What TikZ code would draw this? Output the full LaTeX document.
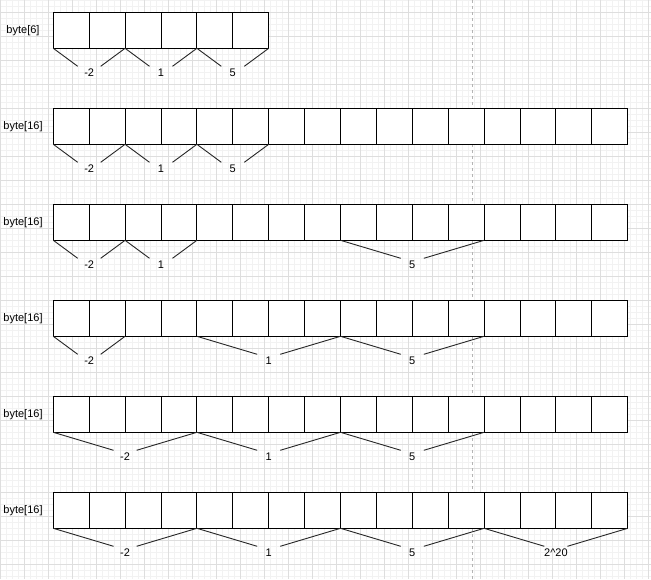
\documentclass[tikz,border=0pt]{standalone}
\usepackage{fontspec}
\setmainfont{Liberation Sans}
\usetikzlibrary{calc}
\definecolor{minorgrid}{HTML}{F2F2F2}
\definecolor{majorgrid}{HTML}{DEDEDE}
\definecolor{guide}{HTML}{B4B4B4}
\newcommand\mygrp[5]{%
  \path ($(r#1c#2.south west)!0.5!(r#1c#3.south east)$) coordinate (#4m);
  \node[lbl] (#4) at ($(#4m)+(0,24)$) {#5};
  \draw[brace] (r#1c#2.south west) -- ($(#4.center)+(-11.5,-6)$);
  \draw[brace] (r#1c#3.south east) -- ($(#4.center)+(11.5,-6)$);
}
\begin{document}
\begin{tikzpicture}[x=1pt,y=-1pt,
  cell/.style={draw=black, fill=white, line width=1pt, minimum width=35.9pt,
    minimum height=36pt, inner sep=0pt, outer sep=0pt, anchor=north west},
  lbl/.style={font=\fontsize{11}{13}\selectfont, inner sep=0pt},
  rowlbl/.style={font=\fontsize{11}{13}\selectfont, inner sep=0pt},
  brace/.style={draw=black!85, line width=0.9pt},
  mingrid/.style={draw=minorgrid, line width=0.8pt},
  majgrid/.style={draw=majorgrid, line width=0.8pt},
  guideline/.style={draw=guide, line width=0.8pt, dash pattern=on 3pt off 3pt}]
\useasboundingbox (0,0) rectangle (651,579);
\fill[white] (0,0) rectangle (651,579);
% grid
\foreach \gx in {0,6,...,648} \draw[mingrid] (\gx,0) -- (\gx,579);
\foreach \gy in {0,6,...,576} \draw[mingrid] (0,\gy) -- (651,\gy);
\foreach \gx in {0,24,...,648} \draw[majgrid] (\gx,0) -- (\gx,579);
\foreach \gy in {12,36,...,564} \draw[majgrid] (0,\gy) -- (651,\gy);
% dashed guide
\coordinate (gtop) at (472.5,0);
\coordinate (gbot) at (472.5,579);
\draw[guideline] (gtop) -- (gbot);
% cells
\foreach \rw/\n in {1/6,2/16,3/16,4/16,5/16,6/16}{
  \pgfmathtruncatemacro\last{\n-1}
  \foreach \i in {0,...,\last}{
    \node[cell] (r\rw c\i) at ({53.3+35.9*\i},{12.3+96*(\rw-1)}) {};
  }
  \node[rowlbl] (rl\rw) at (23,{30.3+96*(\rw-1)}) {byte[\n]};
}
% groups
\mygrp{1}{0}{1}{a1}{-2}
\mygrp{1}{2}{3}{a2}{1}
\mygrp{1}{4}{5}{a3}{5}
\mygrp{2}{0}{1}{b1}{-2}
\mygrp{2}{2}{3}{b2}{1}
\mygrp{2}{4}{5}{b3}{5}
\mygrp{3}{0}{1}{c1}{-2}
\mygrp{3}{2}{3}{c2}{1}
\mygrp{3}{8}{11}{c3}{5}
\mygrp{4}{0}{1}{d1}{-2}
\mygrp{4}{4}{7}{d2}{1}
\mygrp{4}{8}{11}{d3}{5}
\mygrp{5}{0}{3}{e1}{-2}
\mygrp{5}{4}{7}{e2}{1}
\mygrp{5}{8}{11}{e3}{5}
\mygrp{6}{0}{3}{f1}{-2}
\mygrp{6}{4}{7}{f2}{1}
\mygrp{6}{8}{11}{f3}{5}
\mygrp{6}{12}{15}{f4}{2\textasciicircum 20}
\end{tikzpicture}
\end{document}
